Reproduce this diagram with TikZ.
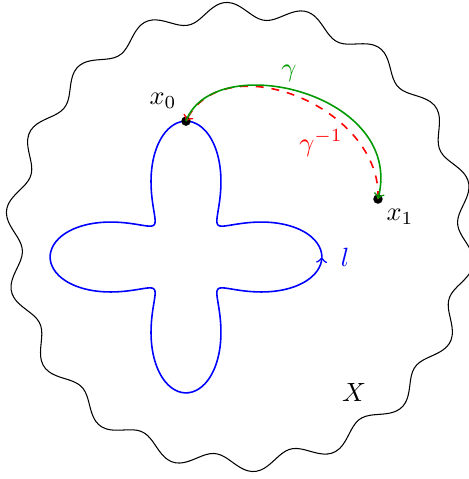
\documentclass[tikz,border=0pt]{standalone}
\usepackage{amsmath}
\usepackage{amssymb}
\usepackage{tikz}
\usetikzlibrary{arrows.meta, positioning}

\begin{document}
\begin{tikzpicture}[>=to]
  \useasboundingbox (0,0) rectangle (6.253,6.387);
  % the space X
  \draw[shift={(3.2,3.227)}] plot[domain=0:359, samples=360, smooth cycle] (\x:{3.02+0.113*sin(18*\x-153)});
  \node (X) at (4.72,1.147) {$X$};
  % the loop l
  \draw[blue,semithick,->,shift={(2.48,2.96)}] plot[domain=0:360, samples=240, smooth] (\x:{0.604*(2+cos(4*\x))});
  \node[blue] (l) at (4.6,2.96) {$l$};
  % base points
  \coordinate (x0) at (2.48,4.772);
  \coordinate (x1) at (5.04,3.733);
  \fill (x0) circle (1.8pt);
  \fill (x1) circle (1.8pt);
  \node (x0lbl) at (2.173,5.04) {$x_0$};
  \node (x1lbl) at (5.333,3.493) {$x_1$};
  % gamma and its inverse
  \draw[red,semithick,dashed,->] (x1) .. controls (5.1,4.95) and (3.0,5.8) .. (x0);
  \draw[green!60!black,semithick,->] (x0) .. controls (2.85,5.75) and (5.4,5.15) .. (x1);
  \node[green!60!black] (gam) at (3.853,5.413) {$\gamma$};
  \node[red] (gaminv) at (4.28,4.48) {$\gamma^{-1}$};
\end{tikzpicture}
\end{document}
